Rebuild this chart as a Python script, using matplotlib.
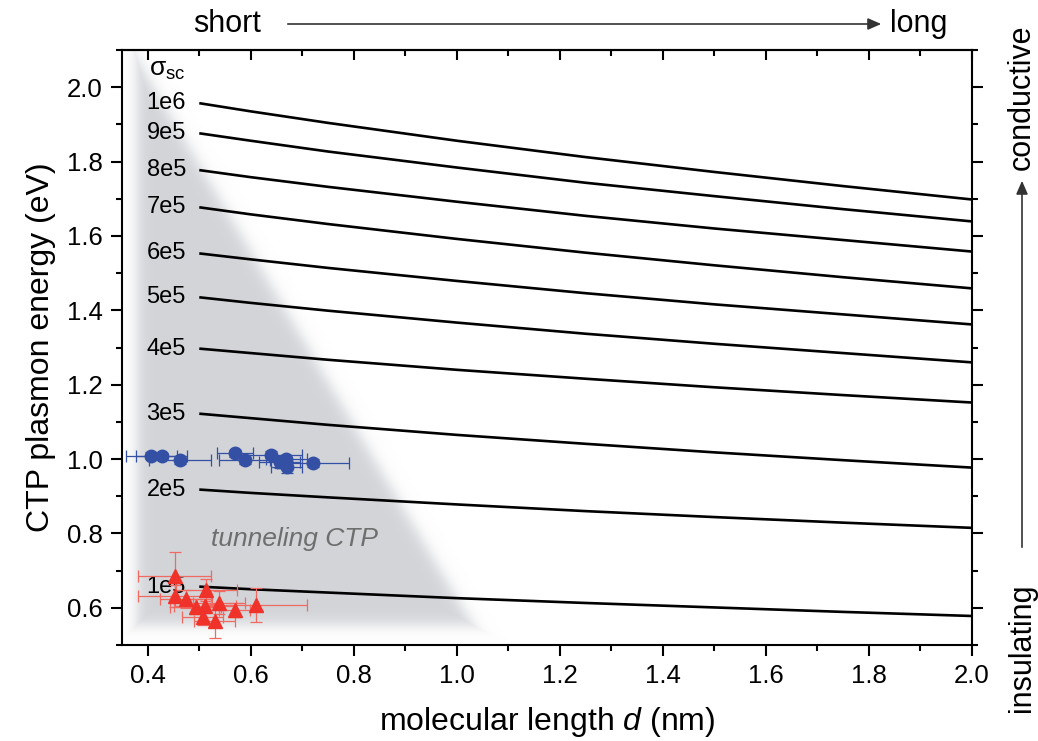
import numpy as np
import matplotlib
matplotlib.use("Agg")
import matplotlib.pyplot as plt
from matplotlib.ticker import MultipleLocator

plt.rcParams['font.family'] = ['Liberation Sans', 'DejaVu Sans']
plt.rcParams['mathtext.fontset'] = 'custom'
plt.rcParams['mathtext.rm'] = 'Liberation Sans'
plt.rcParams['mathtext.it'] = 'Liberation Sans:italic'

# ---------------- data ----------------
d_grid = [0.5, 0.6, 0.75, 1.0, 1.25, 1.5, 1.75, 2.0]
sigma_labels = ["1e6", "9e5", "8e5", "7e5", "6e5", "5e5", "4e5", "3e5", "2e5", "1e5"]
E_1e6 = [1.957, 1.935, 1.904, 1.856, 1.812, 1.772, 1.734, 1.698]
E_9e5 = [1.876, 1.856, 1.827, 1.784, 1.743, 1.707, 1.672, 1.639]
E_8e5 = [1.777, 1.758, 1.732, 1.692, 1.654, 1.620, 1.589, 1.558]
E_7e5 = [1.677, 1.658, 1.632, 1.592, 1.555, 1.521, 1.489, 1.459]
E_6e5 = [1.553, 1.537, 1.514, 1.479, 1.446, 1.416, 1.389, 1.362]
E_5e5 = [1.435, 1.420, 1.399, 1.367, 1.337, 1.310, 1.285, 1.260]
E_4e5 = [1.297, 1.285, 1.267, 1.240, 1.216, 1.193, 1.172, 1.152]
E_3e5 = [1.122, 1.110, 1.092, 1.065, 1.041, 1.018, 0.997, 0.977]
E_2e5 = [0.918, 0.909, 0.897, 0.878, 0.860, 0.844, 0.829, 0.815]
E_1e5 = [0.657, 0.650, 0.641, 0.626, 0.613, 0.601, 0.589, 0.578]
curves = [E_1e6, E_9e5, E_8e5, E_7e5, E_6e5, E_5e5, E_4e5, E_3e5, E_2e5, E_1e5]

blue_d = [0.407, 0.427, 0.462, 0.569, 0.588, 0.640, 0.656, 0.669, 0.670, 0.720]
blue_E = [1.009, 1.009, 0.998, 1.015, 0.998, 1.012, 0.991, 1.000, 0.978, 0.990]
blue_dx = [0.050, 0.050, 0.060, 0.035, 0.050, 0.060, 0.040, 0.040, 0.030, 0.070]
blue_dE = [0.010, 0.008, 0.010, 0.010, 0.012, 0.010, 0.015, 0.012, 0.016, 0.010]

red_d = [0.452, 0.452, 0.474, 0.514, 0.493, 0.511, 0.538, 0.569, 0.610, 0.507, 0.530]
red_E = [0.686, 0.632, 0.624, 0.648, 0.603, 0.605, 0.614, 0.594, 0.608, 0.574, 0.565]
red_dx = [0.070, 0.070, 0.050, 0.060, 0.050, 0.060, 0.050, 0.030, 0.100, 0.040, 0.040]
red_dE = [0.065, 0.030, 0.025, 0.030, 0.020, 0.020, 0.030, 0.020, 0.045, 0.020, 0.045]

xticks = [0.4, 0.6, 0.8, 1.0, 1.2, 1.4, 1.6, 1.8, 2.0]
yticks = [0.6, 0.8, 1.0, 1.2, 1.4, 1.6, 1.8, 2.0]
# ---------------------------------------

fig = plt.figure(figsize=(10.38, 7.41), dpi=100)
ax = fig.add_axes([122/1038, 1-645/741, (972-122)/1038, (645-50)/741])
xmin, xmax, ymin, ymax = 0.35, 2.0, 0.5, 2.1
ax.set_xlim(xmin, xmax)
ax.set_ylim(ymin, ymax)

# blurred grey triangle ("tunneling" region)
sx = 515.0; sy = 371.4
nx, ny = 850, 600
gx = np.linspace(xmin, xmax, nx)
gy = np.linspace(ymin, ymax, ny)
X, Y = np.meshgrid(gx, gy)
px = X * sx; py = Y * sy
verts = [(0.378, 2.075), (0.378, 0.553), (1.03, 0.553)]
vp = [(a * sx, b * sy) for a, b in verts]
dist = np.full(X.shape, -1e9)
n = len(vp)
area = 0
for i in range(n):
    x1, y1 = vp[i]; x2, y2 = vp[(i + 1) % n]
    area += x1 * y2 - x2 * y1
sign = 1 if area > 0 else -1
for i in range(n):
    x1, y1 = vp[i]; x2, y2 = vp[(i + 1) % n]
    ex, ey = x2 - x1, y2 - y1
    L = np.hypot(ex, ey)
    nxv, nyv = ey / L * sign, -ex / L * sign
    dd = (px - x1) * nxv + (py - y1) * nyv
    dist = np.maximum(dist, dd)
alpha = 1.0 / (1.0 + np.exp(dist / 4.0))
rgba = np.zeros((ny, nx, 4))
rgba[..., 0] = 0.825
rgba[..., 1] = 0.835
rgba[..., 2] = 0.850
rgba[..., 3] = alpha
ax.imshow(rgba, extent=[xmin, xmax, ymin, ymax], origin='lower',
          aspect='auto', zorder=0, interpolation='bilinear')

# model curves
for lab, E in zip(sigma_labels, curves):
    ax.plot(d_grid, E, color='black', lw=1.9, zorder=2, solid_capstyle='butt')
    ax.text(0.474, E[0], lab, ha='right', va='center', fontsize=17, zorder=3)

ax.text(0.403, 2.045, 'σ$_{\\rm sc}$', ha='left', va='center', fontsize=19)
ax.text(0.685, 0.785, 'tunneling CTP', ha='center', va='center',
        fontsize=19, style='italic', color='#6e6e6e', zorder=1)

# data
blue = '#3450a5'
ax.errorbar(blue_d, blue_E, xerr=blue_dx, yerr=blue_dE, fmt='o', ms=9,
            color=blue, ecolor=blue, elinewidth=0.9, capsize=4, capthick=0.9,
            zorder=4)
red = '#f0332a'
ax.errorbar(red_d, red_E, xerr=red_dx, yerr=red_dE, fmt='^', ms=10,
            color=red, ecolor='#f06a62', elinewidth=0.9, capsize=4, capthick=0.9,
            zorder=4)

# axes styling
ax.set_xticks(xticks)
ax.set_yticks(yticks)
ax.xaxis.set_minor_locator(MultipleLocator(0.1))
ax.yaxis.set_minor_locator(MultipleLocator(0.1))
ax.tick_params(which='major', direction='out', length=8, width=1.5, labelsize=18.5,
               top=False, right=True, pad=6)
ax.tick_params(which='minor', direction='out', length=4, width=1.5,
               top=False, right=True)
for s in ax.spines.values():
    s.set_linewidth(1.5)
ax.set_xticklabels([f'{v:.1f}' for v in xticks])
ax.set_yticklabels([f'{v:.1f}' for v in yticks])
ax.set_xlabel(r'molecular length $\mathit{d}$ (nm)', fontsize=23, labelpad=12)
ax.set_ylabel('CTP plasmon energy (eV)', fontsize=23, labelpad=8)

# top axis: inward ticks, no labels
top = ax.secondary_xaxis('top')
top.set_xticks(xticks)
top.xaxis.set_minor_locator(MultipleLocator(0.1))
top.tick_params(which='major', direction='in', length=7, width=1.5, labeltop=False)
top.tick_params(which='minor', direction='in', length=4, width=1.5)
top.spines['top'].set_linewidth(1.5)

# top annotation
ty = 1 - 24/741
fig.text(193/1038, ty, 'short', ha='left', va='center', fontsize=22)
fig.text(890/1038, ty, 'long', ha='left', va='center', fontsize=22)
fig.patches.append(matplotlib.patches.FancyArrowPatch(
    (285/1038, ty), (884/1038, ty), transform=fig.transFigure,
    arrowstyle='-|>,head_length=8,head_width=3.5', color='#333333', lw=1.2,
    mutation_scale=1))

# right annotation
rx = 1022/1038
fig.text(rx, 1 - 97/741, 'conductive', rotation=90, ha='center', va='center', fontsize=22)
fig.text(rx, 1 - 648/741, 'insulating', rotation=90, ha='center', va='center', fontsize=22)
fig.patches.append(matplotlib.patches.FancyArrowPatch(
    (rx, 1 - 550/741), (rx, 1 - 178/741), transform=fig.transFigure,
    arrowstyle='-|>,head_length=8,head_width=3.5', color='#333333', lw=1.2,
    mutation_scale=1))

fig.savefig('out.png', dpi=100)
